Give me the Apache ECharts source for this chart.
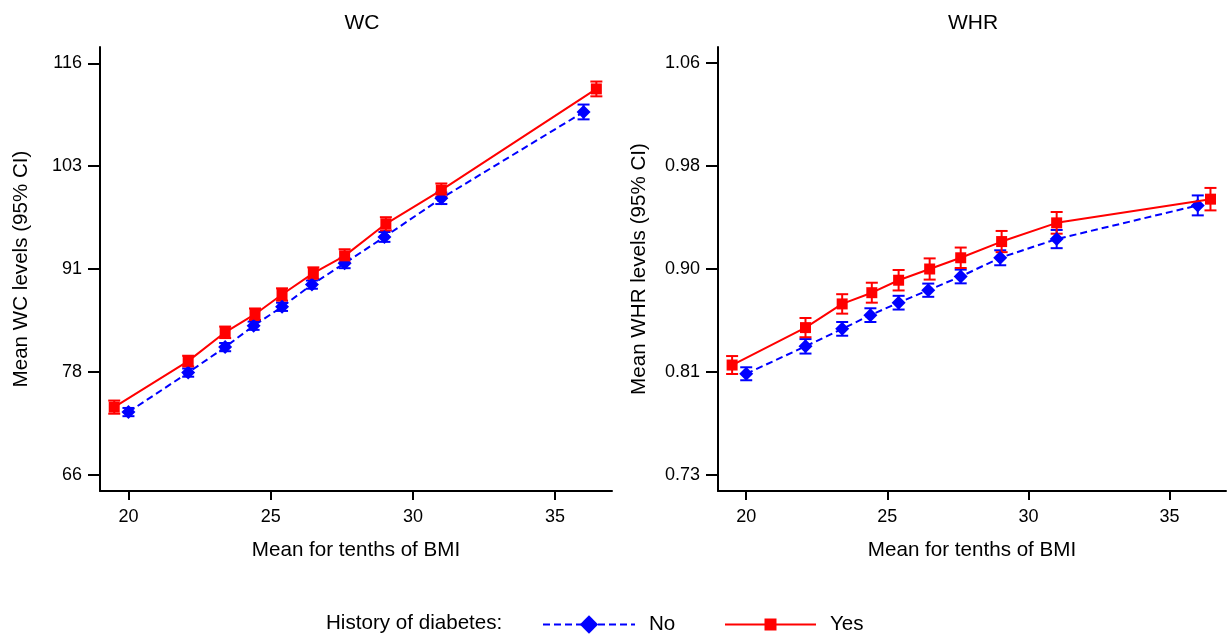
<!DOCTYPE html>
<html>
<head>
<meta charset="utf-8">
<script src="https://cdn.jsdelivr.net/npm/echarts@6/dist/echarts.min.js"></script>
<style>
  html, body { margin: 0; padding: 0; background: #fff; }
  #chart { width: 1228px; height: 637px; }
</style>
</head>
<body>
<div id="chart"></div>
<script>
// mean BMI of each tenth, per group
const bmiNo = [20.0, 22.1, 23.4, 24.4, 25.4, 26.45, 27.6, 29.0, 31.0, 36.0]
const bmiYes = [19.5, 22.1, 23.4, 24.45, 25.4, 26.5, 27.6, 29.05, 31.0, 36.45]

// WC panel
const wcNo = [73.6, 78.4, 81.5, 84.1, 86.4, 89.1, 91.7, 94.9, 99.6, 110.1]
const wcNoCI = [0.5, 0.5, 0.5, 0.5, 0.5, 0.5, 0.6, 0.6, 0.7, 0.9]
const wcYes = [74.2, 79.8, 83.3, 85.5, 87.9, 90.5, 92.6, 96.5, 100.6, 112.9]
const wcYesCI = [0.8, 0.65, 0.7, 0.7, 0.75, 0.7, 0.8, 0.8, 0.8, 0.9]
const wcTicks = [66, 78.5, 91, 103.5, 116]
const wcTickLabels = ['66', '78', '91', '103', '116']

// WHR panel
const whrNo = [0.811, 0.833, 0.847, 0.858, 0.868, 0.878, 0.889, 0.904, 0.919, 0.946]
const whrNoCI = [0.0052, 0.0058, 0.0055, 0.0055, 0.0055, 0.0053, 0.0055, 0.006, 0.0073, 0.008]
const whrYes = [0.818, 0.848, 0.867, 0.876, 0.886, 0.895, 0.904, 0.917, 0.932, 0.951]
const whrYesCI = [0.0072, 0.0077, 0.0078, 0.008, 0.0082, 0.0085, 0.0082, 0.0085, 0.0087, 0.009]
const whrTicks = [0.73, 0.8125, 0.895, 0.9775, 1.06]
const whrTickLabels = ['0.73', '0.81', '0.90', '0.98', '1.06']

const bmiTicks = [20, 25, 30, 35]

const FONT = '"Liberation Sans", Arial, sans-serif'
const BLUE = '#0000ff'
const RED = '#ff0000'

function pairs (xs, ys) {
    return xs.map((x, i) => [x, ys[i]])
}
function ciRows (xs, ys, half) {
    return xs.map((x, i) => [x, ys[i] - half[i], ys[i] + half[i]])
}

function errorBar (color) {
    return function (params, api) {
        const x = api.value(0)
        const top = api.coord([x, api.value(2)])
        const bot = api.coord([x, api.value(1)])
        const w = 6
        const style = { stroke: color, lineWidth: 2 }
        return {
            type: 'group',
            children: [
                { type: 'line', shape: { x1: top[0], y1: top[1], x2: bot[0], y2: bot[1] }, style: style },
                { type: 'line', shape: { x1: top[0] - w, y1: top[1], x2: top[0] + w, y2: top[1] }, style: style },
                { type: 'line', shape: { x1: bot[0] - w, y1: bot[1], x2: bot[0] + w, y2: bot[1] }, style: style }
            ]
        }
    }
}

function xAxisFor (gridIndex) {
    return {
        type: 'value',
        gridIndex: gridIndex,
        min: 19,
        max: 37,
        name: 'Mean for tenths of BMI',
        nameLocation: 'middle',
        nameGap: 49,
        nameTextStyle: { fontFamily: FONT, fontSize: 20.6, color: '#000' },
        axisLine: { show: true, lineStyle: { color: '#000', width: 2 } },
        axisTick: { show: true, length: 9, customValues: bmiTicks, lineStyle: { color: '#000', width: 2 } },
        axisLabel: { customValues: bmiTicks, margin: 17, fontFamily: FONT, fontSize: 18, color: '#000' },
        splitLine: { show: false }
    }
}

function yAxisFor (gridIndex, min, max, ticks, labels, name) {
    return {
        type: 'value',
        gridIndex: gridIndex,
        min: min,
        max: max,
        name: name,
        nameLocation: 'middle',
        nameGap: 68,
        nameTextStyle: { fontFamily: FONT, fontSize: 20.6, color: '#000' },
        axisLine: { show: true, lineStyle: { color: '#000', width: 2 } },
        axisTick: { show: true, length: 12, customValues: ticks, lineStyle: { color: '#000', width: 2 } },
        axisLabel: {
            customValues: ticks,
            margin: 18,
            fontFamily: FONT,
            fontSize: 18,
            color: '#000',
            formatter: function (v) {
                const i = ticks.findIndex(t => Math.abs(t - v) < 1e-6)
                return i >= 0 ? labels[i] : ''
            }
        },
        splitLine: { show: false }
    }
}

function lineNo (idx, ys) {
    return {
        name: 'No',
        type: 'line',
        xAxisIndex: idx,
        yAxisIndex: idx,
        data: pairs(bmiNo, ys),
        symbol: 'diamond',
        symbolSize: 14,
        z: 4,
        lineStyle: { color: BLUE, width: 2, type: [7, 4] },
        itemStyle: { color: BLUE },
        animation: false
    }
}
function lineYes (idx, ys) {
    return {
        name: 'Yes',
        type: 'line',
        xAxisIndex: idx,
        yAxisIndex: idx,
        data: pairs(bmiYes, ys),
        symbol: 'rect',
        symbolSize: 11,
        z: 5,
        lineStyle: { color: RED, width: 2 },
        itemStyle: { color: RED },
        animation: false
    }
}
function bars (idx, xs, ys, half, color, name) {
    return {
        name: name,
        type: 'custom',
        xAxisIndex: idx,
        yAxisIndex: idx,
        renderItem: errorBar(color),
        encode: { x: 0, y: [1, 2] },
        data: ciRows(xs, ys, half),
        z: 3,
        animation: false
    }
}

const legendText = { fontFamily: FONT, fontSize: 20.6, color: '#000', padding: [0, 0, 0, 9] }

const chart = echarts.init(document.getElementById('chart'))
chart.setOption({
    backgroundColor: '#fff',
    animation: false,
    title: [
        { text: 'WC', left: 357, top: 8, textAlign: 'center', textStyle: { fontFamily: FONT, fontSize: 21, fontWeight: 'normal', color: '#000' } },
        { text: 'WHR', left: 968, top: 8, textAlign: 'center', textStyle: { fontFamily: FONT, fontSize: 21, fontWeight: 'normal', color: '#000' } }
    ],
    grid: [
        { left: 100, top: 47, width: 512, height: 444, containLabel: false },
        { left: 718, top: 47, width: 508, height: 444, containLabel: false }
    ],
    xAxis: [xAxisFor(0), xAxisFor(1)],
    yAxis: [
        yAxisFor(0, 64, 118, wcTicks, wcTickLabels, 'Mean WC levels (95% CI)'),
        yAxisFor(1, 0.717, 1.073, whrTicks, whrTickLabels, 'Mean WHR levels (95% CI)')
    ],
    legend: [
        {
            data: ['No'],
            left: 542,
            top: 614,
            padding: 0,
            itemWidth: 92,
            itemHeight: 23,
            textStyle: legendText
        },
        {
            data: ['Yes'],
            left: 724,
            top: 614,
            padding: 0,
            itemWidth: 91,
            itemHeight: 15,
            textStyle: legendText
        }
    ],
    graphic: [
        { type: 'text', left: 326, top: 613, style: { text: 'History of diabetes:', font: '20.6px ' + FONT, fill: '#000' } }
    ],
    series: [
        bars(0, bmiNo, wcNo, wcNoCI, BLUE, 'No CI'),
        bars(0, bmiYes, wcYes, wcYesCI, RED, 'Yes CI'),
        lineNo(0, wcNo),
        lineYes(0, wcYes),
        bars(1, bmiNo, whrNo, whrNoCI, BLUE, 'No CI'),
        bars(1, bmiYes, whrYes, whrYesCI, RED, 'Yes CI'),
        lineNo(1, whrNo),
        lineYes(1, whrYes)
    ]
})
</script>
</body>
</html>
